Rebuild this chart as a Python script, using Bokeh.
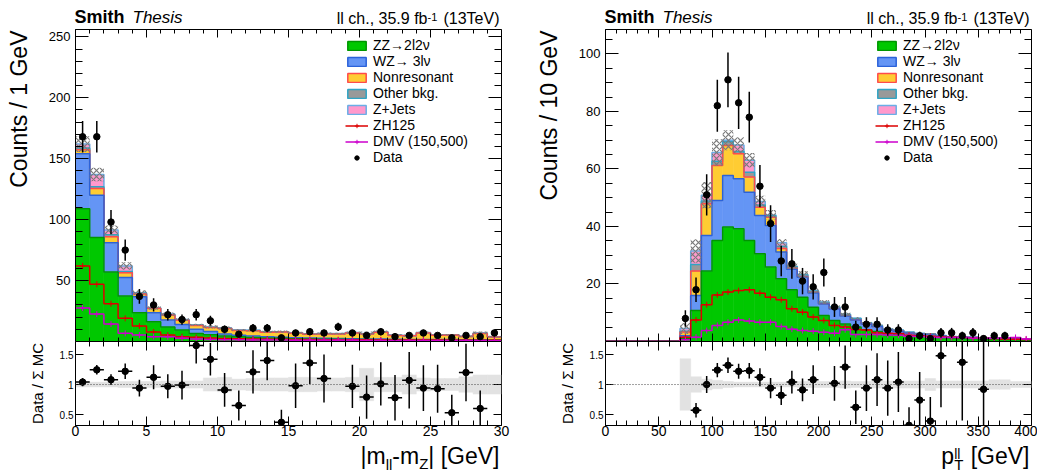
import numpy as np
from bokeh.plotting import figure
from bokeh.models import (LinearAxis, FixedTicker, Label, Legend, LegendItem, Span,
                          Range1d, CustomJSTickFormatter)
from bokeh.layouts import row, column
from bokeh.embed import file_html
from bokeh.resources import INLINE

FONT = "Liberation Sans"
nan = float("nan")
NB = "\u00a0"

# ---------------- left panel : |m_ll - m_Z| , 1 GeV bins ----------------
edges_L = [0, 1, 2, 3, 4, 5, 6, 7, 8, 9, 10, 11, 12, 13, 14, 15, 16, 17, 18, 19, 20,
           21, 22, 23, 24, 25, 26, 27, 28, 29, 30]
zz_L = [109, 85.4, 57, 37.3, 23.6, 16.2, 12, 9.4, 6.5, 5.5, 4.5, 3.8, 3.3, 2.9, 2.6, 2.3,
        2.1, 1.9, 1.8, 1.7, 1.6, 1.5, 1.4, 1.3, 1.3, 1.2, 1.2, 1.1, 1.1, 1.0]
wz_L = [45, 34.6, 24, 15.3, 13.1, 7.4, 5.6, 4.6, 3.6, 2.7, 1.6, 1.4, 1.2, 1.0, 0.9, 0.8,
        0.7, 0.7, 0.6, 0.6, 0.5, 0.5, 0.5, 0.4, 0.4, 0.4, 0.4, 0.3, 0.3, 0.3]
nonres_L = [3.3, 5.5, 5.0, 3.8, 2.3, 3.6, 4.1, 3.5, 3.1, 3.3, 4.55, 3.85, 4.35, 3.65, 4.25,
            3.75, 3.15, 3.65, 3.85, 4.65, 4.05, 5.65, 3.05, 2.95, 5.25, 3.55, 3.65, 2.65,
            5.25, 2.35]
other_L = [1.5, 1.5, 1.5, 1.0, 0.5, 0.3, 0.3, 0.2, 0.2, 0.2, 0.2, 0.15, 0.15, 0.15, 0.15,
           0.15, 0.1, 0.15, 0.1, 0.15, 0.15, 0.15, 0.1, 0.1, 0.15, 0.1, 0.1, 0.1, 0.15, 0.1]
zjets_L = [3.2, 10.0, 4.0, 4.6, 0.5, 0.0, 0.5, 0.3, 0.3, 0.3, 0.2, 0.2, 0.25, 0.2, 0.2,
           0.2, 0.25, 0.2, 0.2, 0.2, 0.2, 0.2, 0.25, 0.2, 0.2, 0.2, 0.25, 0.2, 0.2, 0.25]
zh_L = [62, 47, 31, 19, 12.7, 7.8, 5.3, 4.0, 3.4, 2.8, 2.4, 2.2, 2.0, 1.9, 1.8, 1.7, 1.6,
        1.5, 1.5, 1.4, 1.4, 1.3, 1.3, 1.3, 1.2, 1.2, 1.2, 1.1, 1.1, 1.1]
dmv_L = [27.5, 22.5, 14.3, 6.7, 5.3, 4.0, 3.8, 2.7, 2.0, 1.7, 1.5, 1.4, 1.3, 1.2, 1.2, 1.1,
         1.1, 1.0, 1.0, 1.0, 0.9, 0.9, 0.9, 0.9, 0.8, 0.8, 0.8, 0.8, 0.8, 0.7]
data_L = [168, 168, 98, 75, 37, 30, 22, 18, 22, 17, 10, 6, 11, 11, 3, 7, 8, 7, 12, 7, 5, 8,
          4, 5, 7, 5, 3, 5, 4, 7]
ratio_L = [1.04, 1.245, 1.08, 1.22, 0.94, 1.12, 0.97, 0.99, 1.65, 1.42, 0.91, 0.65, 1.21,
           1.40, 0.37, 0.98, 1.36, 1.10, nan, 0.97, 0.79, 1.01, 0.78, 1.07, 0.94, 0.93,
           0.53, 1.20, 0.60, nan]
rerr_L = [0.07, 0.08, 0.09, 0.13, 0.14, 0.2, 0.2, 0.24, 0.3, 0.27, 0.28, 0.25, 0.36, 0.33,
          0.21, 0.37, 0.35, 0.4, nan, 0.36, 0.36, 0.36, 0.38, 0.47, 0.38, 0.4, 0.3, 0.48,
          0.3, nan]
band_L = [0.04, 0.04, 0.04, 0.05, 0.05, 0.05, 0.06, 0.06, 0.06, 0.11, 0.12, 0.09, 0.10,
          0.11, 0.11, 0.12, 0.12, 0.11, 0.11, 0.12, 0.27, 0.12, 0.12, 0.16, 0.11, 0.10,
          0.10, 0.13, 0.16, 0.16]

# ---------------- right panel : pT(ll) , 10 GeV bins ----------------
edges_R = [0, 10, 20, 30, 40, 50, 60, 70, 80, 90, 100, 110, 120, 130, 140, 150, 160, 170,
           180, 190, 200, 210, 220, 230, 240, 250, 260, 270, 280, 290, 300, 310, 320, 330,
           340, 350, 360, 370, 380, 390, 400]
zz_R = [0, 0, 0, 0, 0, 0, 0, 1.0, 10.8, 24.5, 35.1, 39.8, 39.2, 35.1, 30.5, 25.9, 21.8,
        18.0, 15.4, 11.9, 9.0, 7.3, 6.1, 5.0, 4.1, 3.5, 2.7, 2.5, 2.0, 1.8, 1.65, 1.3, 1.1,
        0.95, 0.95, 0.72, 0.7, 0.67, 0.64, 0.45]
wz_R = [0, 0, 0, 0, 0, 0, 0, 1.0, 5.2, 12.4, 13.9, 17.9, 17.4, 16.8, 13.3, 14.4, 9.3, 7.1,
        6.9, 5.0, 4.0, 4.0, 2.8, 2.5, 2.0, 1.7, 1.3, 1.1, 0.95, 0.8, 0.75, 0.6, 0.48, 0.43,
        0.43, 0.33, 0.31, 0.3, 0.28, 0.2]
nonres_R = [0, 0, 0, 0, 0, 0, 0, 1.3, 8.5, 11.0, 12.2, 10.5, 8.7, 5.3, 2.9, 2.9, 1.2, 0.5,
            0.3, 0.2, 0.2, 0.2, 0.1, 0.1, 0.05, 0.05, 0.03, 0.03, 0.03, 0.03, 0.03, 0.02,
            0.01, 0.01, 0.01, 0.01, 0.01, 0.01, 0.01, 0.01]
other_R = [0, 0, 0, 0, 0, 0, 0, 0.3, 2.3, 1.0, 1.5, 1.3, 0.8, 1.7, 0.8, 0.5, 0.8, 0.4, 0.5,
           0.4, 0.4, 0.4, 0.4, 0.4, 0.3, 0.3, 0.25, 0.25, 0.2, 0.15, 0.15, 0.12, 0.1, 0.1,
           0.1, 0.08, 0.07, 0.06, 0.06, 0.04]
zjets_R = [0, 0, 0, 0, 0, 0, 0, 0.9, 4.7, 2.0, 3.0, 0.5, 2.2, 4.1, 1.2, 0.3, 1.2, 0.2, 0.2,
           0.2, 0.1, 0.1, 0.1, 0.1, 0.05, 0.05, 0.02, 0.02, 0.02, 0.02, 0.02, 0.01, 0.01,
           0.01, 0.01, 0.01, 0.01, 0.01, 0.01, 0.01]
zh_R = [0, 0, 0, 0, 0, 0, 0, 1.5, 7.5, 12.8, 16.2, 17.2, 17.7, 18.0, 16.8, 15.4, 14.5, 11.4,
        10.2, 8.5, 7.3, 5.6, 5.0, 4.2, 4.0, 3.0, 2.9, 2.8, 2.2, 2.0, 1.8, 1.6, 1.5, 1.4,
        1.3, 1.1, 1.0, 0.9, 0.8, 0.7]
dmv_R = [0, 0, 0, 0, 0, 0, 0, 0.6, 1.5, 3.8, 5.6, 6.7, 7.5, 7.1, 6.7, 6.7, 5.2, 4.3, 3.8,
         3.6, 3.2, 2.9, 4.1, 2.4, 2.4, 2.4, 2.3, 2.2, 1.8, 1.7, 1.5, 1.4, 1.4, 1.4, 1.2,
         1.1, 1.1, 1.3, 1.4, 0.9]
data_R = [0, 0, 0, 0, 0, 0, 0, 8, 18, 51, 82, 91, 83, 78, 54, 41, 28, 27, 21, 19, 24, 12,
          12, 5, 6, 6, 4, 4, 1, 2, 1, 3, 3, 2, 3, 1, 2, 2, 0, 0]
ratio_R = [nan, nan, nan, nan, nan, nan, nan, nan, 0.57, 1.00, 1.24, 1.32, 1.22, 1.23, 1.12,
           0.94, 0.82, 1.04, 0.91, 1.08, nan, 1.02, 1.29, 0.62, 0.94, 1.08, 0.94, 1.04,
           0.32, 0.74, 0.39, 1.48, nan, 1.37, nan, 0.92, nan, nan, nan, nan]
rerr_R = [nan, nan, nan, nan, nan, nan, nan, nan, 0.12, 0.14, 0.12, 0.13, 0.125, 0.13, 0.15,
          0.17, 0.16, 0.19, 0.19, 0.24, nan, 0.29, 0.36, 0.28, 0.38, 0.44, 0.46, 0.5, 0.3,
          0.47, 0.4, 0.86, nan, 0.97, nan, 0.92, nan, nan, nan, nan]
band_R = [0, 0, 0, 0, 0, 0, 0, 0.43, 0.13, 0.09, 0.07, 0.05, 0.04, 0.04, 0.04, 0.04, 0.04,
          0.04, 0.05, 0.05, 0.05, 0.05, 0.06, 0.05, 0.05, 0.06, 0.06, 0.06, 0.06, 0.06, 0.10,
          0.06, 0.06, 0.06, 0.06, 0.06, 0.08, 0.08, 0.05, 0.05]

# ---------------- ticks / labels ----------------
yticks_L = [50, 100, 150, 200, 250]
xticks_L = [0, 5, 10, 15, 20, 25, 30]
yticks_R = [20, 40, 60, 80, 100]
xticks_R = [0, 50, 100, 150, 200, 250, 300, 350, 400]
rticks = [0.5, 1, 1.5]

stack_names = ["ZZ\u21922l2\u03bd", "WZ\u2192 3l\u03bd", "Nonresonant", "Other bkg.", "Z+Jets"]
stack_fill = ["#00C800", "#6495F5", "#FFCC33", "#999999", "#FF99CC"]
stack_line = ["#009600", "#2B62D9", "#FF4B4B", "#2FA4C4", "#6AAEE6"]
ZH_COL, DMV_COL = "#DD0000", "#CC00CC"

W = {' ': 278, NB: 278, '(': 333, ')': 333, ',': 278, '-': 333, '.': 278, '/': 278,
     '[': 278, ']': 278, '|': 260, 'a': 556, 'b': 556, 'c': 500, 'e': 556, 'f': 278,
     'h': 556, 'l': 222, 'm': 833, 'p': 556, 's': 500, 't': 278, 'G': 778, 'T': 611,
     'V': 667, 'Z': 611}

MAIN_H, RAT_H, RAT_B, HEAD_H, FOOT_H = 312, 84, 18, 29, 32
XT_SIZE, XT_BASE = 23, 7


def tw(s, size):
    return sum(W.get(ch, 556) for ch in s) * size / 1000.0


def style(ax, majors, minors, tin, tmin, labels=True, fsize="13px", standoff=5):
    ax.ticker = FixedTicker(ticks=list(majors), minor_ticks=list(minors))
    ax.major_tick_in = tin
    ax.major_tick_out = 0
    ax.minor_tick_in = tmin
    ax.minor_tick_out = 0
    ax.axis_line_color = "black"
    ax.major_tick_line_color = "black"
    ax.minor_tick_line_color = "black"
    if labels:
        ax.major_label_text_font = FONT
        ax.major_label_text_font_size = fsize
        ax.major_label_text_color = "black"
        ax.major_label_standoff = standoff
    else:
        ax.formatter = CustomJSTickFormatter(code="return ''")
        ax.major_label_standoff = 0


def textfig(w, h):
    f = figure(width=w, height=h, x_range=Range1d(0, w), y_range=Range1d(0, h),
               output_backend="svg", toolbar_location=None, x_axis_location=None,
               y_axis_location=None, min_border=0)
    f.outline_line_color = None
    f.grid.visible = False
    return f


def lab(p, x, y, text, size, **kw):
    p.add_layout(Label(x=x, y=y, text=text, text_font=FONT, text_font_size=f"{size}px",
                       text_color="black", **kw))


def steps(edges, vals):
    v = list(vals)
    return list(edges), v + [v[-1]]


def build(edges, comps, zh, dmv, data, band, ratio, rerr, ymax, yt, ymstep, xt, xmstep,
          ytitle, strip_w, br, kind):
    e = np.asarray(edges, float)
    lft, rgt = e[:-1], e[1:]
    ctr = (lft + rgt) / 2
    stack = np.vstack([np.asarray(c, float) for c in comps])
    cum = np.cumsum(stack, axis=0)
    total = cum[-1]
    band = np.asarray(band, float)
    col_w = strip_w + 28 + 426 + br

    p = figure(frame_width=426, frame_height=MAIN_H, x_range=Range1d(e[0], e[-1]),
               y_range=Range1d(0, ymax), output_backend="svg", toolbar_location=None,
               x_axis_location=None, y_axis_location=None, min_border=0,
               min_border_left=28, min_border_right=br, min_border_top=0,
               min_border_bottom=0)
    p.outline_line_color = "black"
    p.grid.visible = False

    for i in range(len(comps)):
        bot = cum[i - 1] if i > 0 else np.zeros_like(total)
        p.quad(left=lft, right=rgt, bottom=bot, top=cum[i], fill_color=stack_fill[i],
               line_color=stack_fill[i], line_width=0.6)
    for i in reversed(range(len(comps))):
        sx, sy = steps(e, cum[i])
        p.step(x=sx, y=sy, mode="after", line_color=stack_line[i], line_width=1.5)
    m = total > 0
    p.quad(left=lft[m], right=rgt[m], bottom=(total * (1 - band))[m],
           top=(total * (1 + band))[m], fill_color=None, line_color=None,
           hatch_pattern="x", hatch_color="#7a7a7a", hatch_scale=6, hatch_weight=1.2)
    sig_r = []
    for vals, col in ((zh, ZH_COL), (dmv, DMV_COL)):
        vals = np.asarray(vals, float)
        sx, sy = steps(e, vals)
        ln = p.step(x=sx, y=sy, mode="after", line_color=col, line_width=1.5)
        mm = vals > 0
        mk = p.scatter(x=ctr[mm], y=vals[mm], marker="cross", size=6, line_color=col,
                       line_width=1)
        sig_r.append([ln, mk])
    d = np.asarray(data, float)
    md = d > 0
    err = np.sqrt(d)
    p.segment(x0=ctr[md], y0=(d - err)[md], x1=ctr[md], y1=(d + err)[md],
              line_color="black", line_width=1.5)
    dr = p.scatter(x=ctr[md], y=d[md], marker="circle", size=6.5, fill_color="black",
                   line_color="black")

    ax = LinearAxis()
    style(ax, yt, np.arange(ymstep, ymax, ymstep), 13, 7, fsize="13px", standoff=5)
    p.add_layout(ax, "left")
    ax = LinearAxis(fixed_location=e[-1])
    style(ax, yt, np.arange(ymstep, ymax, ymstep), 13, 7, labels=False)
    p.add_layout(ax, "right")
    ax = LinearAxis(fixed_location=0)
    style(ax, xt, np.arange(e[0], e[-1], xmstep), 8, 4, labels=False)
    p.add_layout(ax, "below")
    ax = LinearAxis(fixed_location=ymax)
    style(ax, xt, np.arange(e[0], e[-1], xmstep), 8, 4, labels=False)
    p.add_layout(ax, "above")

    # legend proxies (not drawn in the plot: NaN coordinates)
    items = []
    for i in range(len(comps)):
        dq = p.quad(left=[nan], right=[nan], bottom=[nan], top=[nan],
                    fill_color=stack_fill[i], line_color=stack_line[i], line_width=1.5)
        items.append(LegendItem(label=stack_names[i], renderers=[dq]))
    items.append(LegendItem(label="ZH125", renderers=sig_r[0]))
    items.append(LegendItem(label="DMV (150,500)", renderers=sig_r[1]))
    bar = p.scatter(x=[nan], y=[nan], marker="dash", angle=np.pi / 2, size=11,
                    line_color="black", line_width=1.5)
    items.append(LegendItem(label="Data", renderers=[dr, bar]))
    leg = Legend(items=items, location=(270, 176), label_text_font=FONT,
                 label_text_font_size="14px", label_text_color="black", glyph_width=23,
                 glyph_height=11, label_standoff=5, spacing=0, padding=0, margin=0,
                 label_height=16, border_line_alpha=0, background_fill_alpha=0)
    p.add_layout(leg)

    # ---------------- ratio panel ----------------
    r = figure(frame_width=426, frame_height=RAT_H, x_range=p.x_range,
               y_range=Range1d(0.317, 1.717), output_backend="svg", toolbar_location=None,
               x_axis_location=None, y_axis_location=None, min_border=0,
               min_border_left=28, min_border_right=br, min_border_top=0,
               min_border_bottom=RAT_B)
    r.outline_line_color = "black"
    r.grid.visible = False
    mb = band > 0
    r.quad(left=lft[mb], right=rgt[mb], bottom=(1 - band)[mb], top=(1 + band)[mb],
           fill_color="#E2E2E2", line_color="#E2E2E2", line_width=0.5)
    r.add_layout(Span(location=1, dimension="width", line_color="#444444", line_width=1,
                      line_dash="1 2"))
    rt = np.asarray(ratio, float)
    re = np.asarray(rerr, float)
    mr = ~np.isnan(rt)
    r.segment(x0=lft[mr], y0=rt[mr], x1=rgt[mr], y1=rt[mr], line_color="black",
              line_width=1.5)
    r.segment(x0=ctr[mr], y0=(rt - re)[mr], x1=ctr[mr], y1=(rt + re)[mr],
              line_color="black", line_width=1.5)
    r.scatter(x=ctr[mr], y=rt[mr], marker="circle", size=6.5, fill_color="black",
              line_color="black")

    ax = LinearAxis()
    style(ax, rticks, [], 8, 0, fsize="10px", standoff=2)
    r.add_layout(ax, "left")
    ax = LinearAxis(fixed_location=e[-1])
    style(ax, rticks, [], 8, 0, labels=False)
    r.add_layout(ax, "right")
    ax = LinearAxis()
    style(ax, xt, np.arange(e[0], e[-1], xmstep), 9, 5, fsize="14px", standoff=0)
    r.add_layout(ax, "below")
    ax = LinearAxis(fixed_location=1.717)
    style(ax, xt, np.arange(e[0], e[-1], xmstep), 9, 5, labels=False)
    r.add_layout(ax, "above")

    # ---------------- text strips ----------------
    head = textfig(col_w, HEAD_H)
    x0 = strip_w + 28           # frame left inside this column
    xr = x0 + 426               # frame right
    lab(head, x0 + 1, 3, "Smith", 18, text_font_style="bold")
    lab(head, x0 + 59, 3, "Thesis", 17, text_font_style="italic")
    t3 = NB + "(13TeV)"
    w1 = tw(t3, 16)
    w2 = tw("-1", 11)
    lab(head, xr, 3, t3, 16, text_align="right")
    lab(head, xr - w1, 9, "-1", 11, text_align="right")
    lab(head, xr - w1 - w2, 3, "ll ch., 35.9 fb", 16, text_align="right")

    side_h = MAIN_H + RAT_H + RAT_B
    side = textfig(strip_w, side_h)
    lab(side, strip_w - 14, side_h - 1, ytitle, 23, angle=np.pi / 2, text_align="right")
    lab(side, strip_w, RAT_B + RAT_H / 2, "Data / \u03a3 MC", 15, angle=np.pi / 2,
        text_align="center")

    foot = textfig(col_w, FOOT_H)
    if kind == "m":
        parts = [("|m", XT_SIZE, 0), ("ll", 15, -4), ("-m", XT_SIZE, 0), ("Z", 15, -3),
                 ("|" + NB + "[GeV]", XT_SIZE, 0)]
        tot = sum(tw(t, s) for t, s, _ in parts)
        x = xr - tot
        for t, s, dy in parts:
            lab(foot, x, XT_BASE + dy, t, s)
            x += tw(t, s)
    else:
        wp = tw("p", XT_SIZE)
        ws = max(tw("ll", 15), tw("T", 15)) + 1
        tg = NB + "[GeV]"
        wg = tw(tg, XT_SIZE)
        x = xr - wp - ws - wg
        lab(foot, x, XT_BASE, "p", XT_SIZE)
        lab(foot, x + wp, XT_BASE + 7, "ll", 14)
        lab(foot, x + wp, XT_BASE - 4, "T", 15)
        lab(foot, x + wp + ws, XT_BASE, tg, XT_SIZE)

    return column(head, row(side, column(p, r)), foot)


left = build(edges_L, [zz_L, wz_L, nonres_L, other_L, zjets_L], zh_L, dmv_L, data_L,
             band_L, ratio_L, rerr_L, 256, yticks_L, 10, xticks_L, 1, "Counts / 1 GeV",
             45, 30, "m")
right = build(edges_R, [zz_R, wz_R, nonres_R, other_R, zjets_R], zh_R, dmv_R, data_R,
              band_R, ratio_R, rerr_R, 108.5, yticks_R, 5, xticks_R, 10, "Counts / 10 GeV",
              44, 8, "p")

layout = row(left, right)
open("out.html", "w").write(file_html(layout, INLINE))
